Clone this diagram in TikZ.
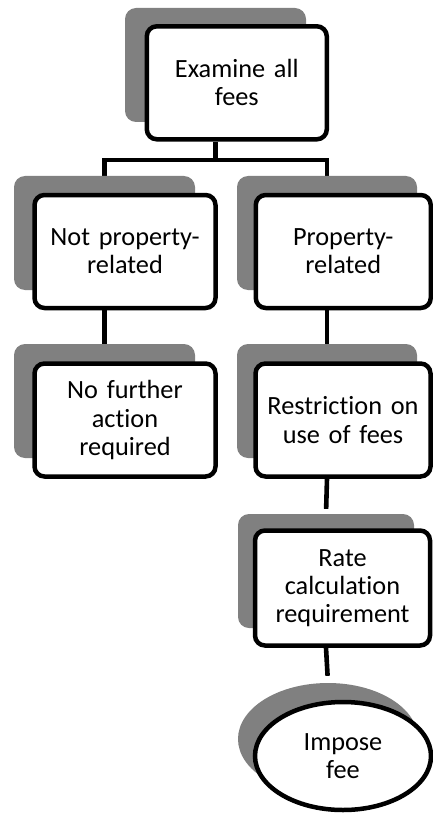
\documentclass[tikz,border=0pt]{standalone}
\usepackage{fontspec}
\setmainfont{Carlito}[Ligatures=NoCommon]
\usetikzlibrary{shapes.geometric,backgrounds}
\definecolor{shade}{RGB}{128,128,128}
\begin{document}
\begin{tikzpicture}[x=1pt,y=-1pt,
  box/.style={draw=black, line width=4.5pt, fill=white, rounded corners=10pt, align=center,
    text width=174pt, inner sep=0pt, minimum height=113pt,
    font=\fontsize{26.3}{28.3}\selectfont},
  shadowbox/.style={fill=shade, rounded corners=11pt, inner sep=0pt, minimum height=114pt},
  ovalbox/.style={ellipse, draw=black, line width=4.5pt, fill=white, align=center, inner sep=0pt,
    minimum width=176pt, minimum height=108pt, font=\fontsize{26.3}{28.3}\selectfont},
  shadowoval/.style={ellipse, fill=shade, inner sep=0pt, minimum width=180pt, minimum height=112pt},
  conn/.style={draw=black, line width=4.6pt, line join=miter}]
\useasboundingbox (0,0) rectangle (433,813);

% shadows
\node[shadowbox, minimum width=181pt] (topS) at (215.5,65) {};
\node[shadowbox, minimum width=181pt] (l1S) at (104.5,233) {};
\node[shadowbox, minimum width=180pt] (r1S) at (327,233) {};
\node[shadowbox, minimum width=181pt] (l2S) at (104.5,401) {};
\node[shadowbox, minimum width=180pt] (r2S) at (327,401) {};
\node[shadowbox, minimum width=176pt] (rateS) at (326,571) {};
\node[shadowoval] (ellS) at (328,739) {};

% boxes
\node[box, minimum width=180pt] (top) at (236.8,82.8) {Examine all\\fees};
\node[box, minimum width=181pt] (l1) at (125,251.5) {Not property-\\related};
\node[box, minimum width=175pt] (r1) at (343.25,251.5) {Property-\\related};
\node[box, minimum width=181pt] (l2) at (125,420) {No further\\action\\required};
\node[box, minimum width=175pt] (r2) at (343,420) {Restriction on\\use of fees};
\node[box, minimum width=175pt, minimum height=115pt] (rate) at (342.5,588) {Rate\\calculation\\requirement};
\node[ovalbox] (ell) at (343,756) {Impose\\fee};

\coordinate (j) at (215.5,160);

\begin{scope}[on background layer]
  \draw[conn] (topS.center |- top.south) -- (j);
  \draw[conn] (l1S.north) |- (j) -| (r1S.north);
  \draw[conn] (l1S.center |- l1.south) -- (l2S.north);
  \draw[conn] (r1S.center |- r1.south) -- (r2S.north);
  \draw[conn, shorten >=5pt] (r2S.center |- r2.south) -- (rateS.north);
  \draw[conn, shorten >=7pt] (rateS.center |- rate.south) -- (ellS.north);
\end{scope}
\end{tikzpicture}
\end{document}
